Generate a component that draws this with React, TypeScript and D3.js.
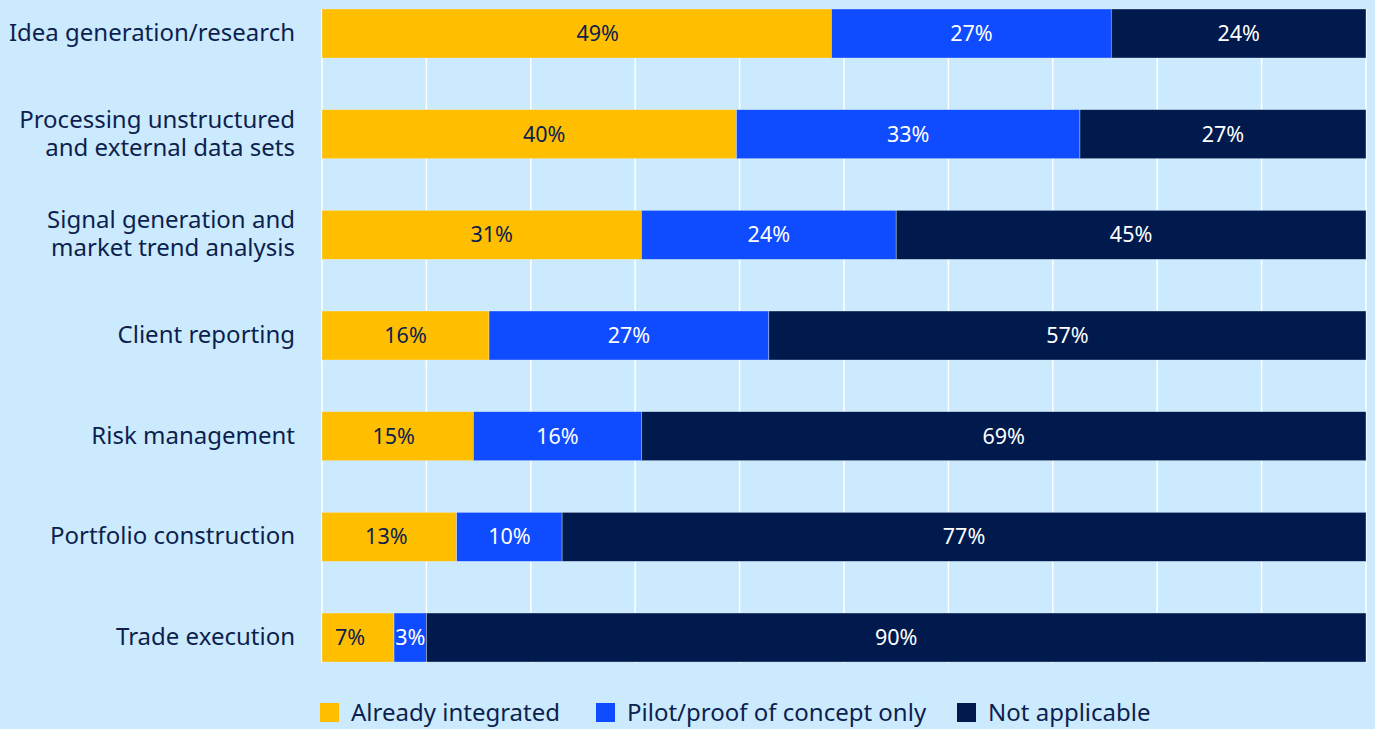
import React from "react";
import * as d3 from "d3";

const categories: string[][] = [
  ["Idea generation/research"],
  ["Processing unstructured", "and external data sets"],
  ["Signal generation and", "market trend analysis"],
  ["Client reporting"],
  ["Risk management"],
  ["Portfolio construction"],
  ["Trade execution"],
];
const alreadyIntegrated = [48.8, 39.7, 30.6, 16.0, 14.5, 12.9, 6.9];
const pilotOnly = [26.8, 32.9, 24.4, 26.8, 16.1, 10.1, 3.1];
const notApplicable = [24.4, 27.4, 45.0, 57.2, 69.4, 77.0, 90.0];
const seriesNames = ["Already integrated", "Pilot/proof of concept only", "Not applicable"];
const seriesColors = ["#FFBE00", "#0F4BFF", "#001A4D"];
const labelColors = ["#0C1F4F", "#FFFFFF", "#FFFFFF"];
const xTicks = [0, 10, 20, 30, 40, 50, 60, 70, 80, 90, 100];
// small horizontal nudges (px) the original applies to the first-series labels
const firstLabelNudge = [21, 15, 10, 0, -4, -3, -8];

const W = 1375;
const H = 729;
const FONT = "'Noto Sans', 'Open Sans', sans-serif";

export default function App() {
  const left = 322;
  const right = 1366;
  const top = 9;
  const bottom = 663;
  const step = 100.67;
  const bw = 49;
  const padInner = 1 - bw / step;
  const y0 = top - (step - bw) / 2;

  const x = d3.scaleLinear().domain([0, 100]).range([left, right]);
  const keys = categories.map((_, i) => String(i));
  const y = d3
    .scaleBand<string>()
    .domain(keys)
    .range([y0, y0 + step * keys.length])
    .paddingInner(padInner)
    .paddingOuter(padInner / 2);

  const rows = categories.map((c, i) => ({
    key: String(i),
    a: alreadyIntegrated[i],
    b: pilotOnly[i],
    c: notApplicable[i],
  }));
  const stack = d3.stack<any>().keys(["a", "b", "c"]);
  const stacked = stack(rows);

  const legendX = [320, 596, 957];

  return (
    <svg
      width={W}
      height={H}
      style={{ position: "absolute", left: 0, top: 0, display: "block" }}
      fontFamily={FONT}
    >
      <rect x={0} y={0} width={W} height={H} fill="#CCEAFD" />
      {xTicks.map((t) => (
        <line
          key={t}
          x1={x(t)}
          x2={x(t)}
          y1={top}
          y2={bottom}
          stroke="#FFFFFF"
          strokeWidth={1.5}
        />
      ))}
      {stacked.map((s, si) =>
        s.map((d, i) => {
          const yy = y(rows[i].key)!;
          const x1 = x(d[0]);
          const x2 = x(d[1]);
          const v = Math.round(d[1] - d[0] + 1e-9);
          const dx = si === 0 ? firstLabelNudge[i] : 0;
          return (
            <g key={`${si}-${i}`}>
              <rect
                x={x1}
                y={yy}
                width={x2 - x1}
                height={y.bandwidth()}
                fill={seriesColors[si]}
                stroke="#E6F2FC"
                strokeOpacity={0.6}
                strokeWidth={0.6}
              />
              <text
                x={(x1 + x2) / 2 + dx}
                y={yy + y.bandwidth() / 2 - 1}
                textAnchor="middle"
                dominantBaseline="central"
                fontSize={21.5}
                fill={labelColors[si]}
              >
                {`${v}%`}
              </text>
            </g>
          );
        })
      )}
      {categories.map((lines, i) => {
        const cy = y(String(i))! + y.bandwidth() / 2 - 2;
        const lh = 28;
        const start = cy - ((lines.length - 1) * lh) / 2;
        return (
          <text
            key={i}
            x={295}
            textAnchor="end"
            fontSize={24}
            fill="#0C1F4F"
          >
            {lines.map((l, j) => (
              <tspan key={j} x={295} y={start + j * lh} dominantBaseline="central">
                {l}
              </tspan>
            ))}
          </text>
        );
      })}
      {seriesNames.map((n, i) => (
        <g key={n}>
          <rect x={legendX[i]} y={703} width={19} height={19} fill={seriesColors[i]} />
          <text
            x={legendX[i] + 31}
            y={711.5}
            dominantBaseline="central"
            fontSize={24}
            fill="#0C1F4F"
          >
            {n}
          </text>
        </g>
      ))}
    </svg>
  );
}
